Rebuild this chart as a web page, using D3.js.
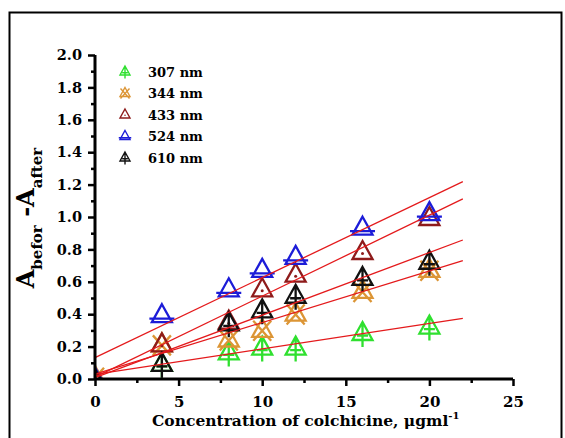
<!DOCTYPE html>
<html><head><meta charset="utf-8">
<script src="https://cdn.jsdelivr.net/npm/d3@7"></script>
<style>body{margin:0;background:#fff}svg{display:block}text{font-family:"DejaVu Serif",serif;font-weight:bold}</style>
</head><body><svg id="c" width="565" height="438"></svg>
<script>
const xValues = [0, 4, 8, 10, 12, 16, 20];
const series = ["307 nm", "344 nm", "433 nm", "524 nm", "610 nm"];
const v307 = [0.01, 0.10, 0.17, 0.20, 0.20, 0.29, 0.33];
const v344 = [0.02, 0.22, 0.25, 0.31, 0.41, 0.55, 0.68];
const v433 = [0.00, 0.22, 0.36, 0.56, 0.65, 0.79, 1.00];
const v524 = [0.01, 0.40, 0.56, 0.68, 0.76, 0.94, 1.03];
const v610 = [0.00, 0.10, 0.35, 0.43, 0.52, 0.63, 0.73];
const xTicks = [0, 5, 10, 15, 20, 25];
const yTicks = [0.0, 0.2, 0.4, 0.6, 0.8, 1.0, 1.2, 1.4, 1.6, 1.8, 2.0];
const fitRange = [0, 22];

const colors = ["#2fe02f", "#dc9535", "#8e1b1b", "#1c1cd8", "#111111"];
const shapes = ["stem", "x", "dot", "bar", "stem"];
const values = [v307, v344, v433, v524, v610];

const svg = d3.select("#c");
svg.append("rect").attr("x", 9.5).attr("y", 12.5).attr("width", 552).attr("height", 450)
  .attr("fill", "none").attr("stroke", "#000").attr("stroke-width", 2);

const x = d3.scaleLinear().domain([0, 25]).range([95, 513]);
const y = d3.scaleLinear().domain([0, 2]).range([379, 55]);

svg.append("clipPath").attr("id", "plotclip").append("rect")
  .attr("x", x(0)).attr("y", y(2) - 20).attr("width", x(25) - x(0) + 20).attr("height", y(0) - y(2) + 20);

function markerPath(shape, s) {
  const p = d3.path();
  p.moveTo(0, -s); p.lineTo(s, s * 0.8); p.lineTo(-s, s * 0.8); p.closePath();
  if (shape === "stem") {
    p.moveTo(0, -s); p.lineTo(0, s * 1.5);
    p.moveTo(-s * 0.55, s * 0.35); p.lineTo(s * 0.55, s * 0.35);
  } else if (shape === "x") {
    p.moveTo(-s * 0.9, -s * 0.8); p.lineTo(s * 0.9, s * 1.2);
    p.moveTo(s * 0.9, -s * 0.8); p.lineTo(-s * 0.9, s * 1.2);
  } else if (shape === "bar") {
    p.moveTo(-s * 1.25, s * 0.45); p.lineTo(s * 1.25, s * 0.45);
  }
  return p.toString();
}
function drawMarker(g, shape, color, s, sw) {
  g.append("path").attr("d", markerPath(shape, s)).attr("fill", "none")
    .attr("stroke", color).attr("stroke-width", sw).attr("stroke-linejoin", "miter");
  if (shape === "dot") g.append("circle").attr("cx", 0).attr("cy", s * 0.25).attr("r", s * 0.15).attr("fill", color);
}

// markers (clipped to plot area)
const mg = svg.append("g").attr("clip-path", "url(#plotclip)");
values.forEach((vals, i) => {
  xValues.forEach((xv, j) => {
    const g = mg.append("g").attr("transform", `translate(${x(xv)},${y(vals[j])})`);
    drawMarker(g, shapes[i], colors[i], 10, 2.3);
  });
});

// regression lines
values.forEach(vals => {
  const n = xValues.length;
  const mx = d3.mean(xValues), my = d3.mean(vals);
  let sxy = 0, sxx = 0;
  for (let k = 0; k < n; k++) { sxy += (xValues[k] - mx) * (vals[k] - my); sxx += (xValues[k] - mx) ** 2; }
  const b = sxy / sxx, a = my - b * mx;
  svg.append("line").attr("x1", x(fitRange[0])).attr("y1", y(a + b * fitRange[0]))
    .attr("x2", x(fitRange[1])).attr("y2", y(a + b * fitRange[1]))
    .attr("stroke", "#e41a1c").attr("stroke-width", 1.3);
});

// axes
const gx = svg.append("g").attr("transform", `translate(0,${y(0)})`);
gx.call(d3.axisBottom(x).tickValues(xTicks).tickSize(7).tickFormat(d3.format("d")));
const gxm = svg.append("g").attr("transform", `translate(0,${y(0)})`);
gxm.call(d3.axisBottom(x).tickValues(d3.range(2.5, 25, 5)).tickSize(4).tickFormat(""));
const gy = svg.append("g").attr("transform", `translate(${x(0)},0)`);
gy.call(d3.axisLeft(y).tickValues(yTicks).tickSize(7).tickFormat(d3.format(".1f")));
const gym = svg.append("g").attr("transform", `translate(${x(0)},0)`);
gym.call(d3.axisLeft(y).tickValues(d3.range(0.1, 2, 0.2)).tickSize(4).tickFormat(""));
[gx, gxm, gy, gym].forEach(g => {
  g.selectAll(".domain").attr("stroke", "#000").attr("stroke-width", 3);
  g.selectAll(".tick line").attr("stroke", "#000").attr("stroke-width", 2.5);
});
[gxm, gym].forEach(g => g.select(".domain").remove());
gx.select(".domain").attr("d", `M${x(0)},0H${x(25)}`);
gy.select(".domain").attr("d", `M0,${y(0)}V${y(2)}`);
gx.selectAll(".tick text").attr("font-size", 15).attr("fill", "#000").attr("y", 14).attr("dy", "0.95em")
  .style("font-family", "DejaVu Serif").style("font-weight", "bold");
gy.selectAll(".tick text").attr("font-size", 14.5).attr("fill", "#000").attr("x", -13)
  .style("font-family", "DejaVu Serif").style("font-weight", "bold");

// legend
series.forEach((name, i) => {
  const yy = 72 + i * 21.5;
  const g = svg.append("g").attr("transform", `translate(125,${yy - 1})`);
  drawMarker(g, shapes[i], colors[i], 5, 1.4);
  svg.append("text").attr("x", 148).attr("y", yy + 4.5).attr("font-size", 13).text(name);
});

// x title
const xt = svg.append("text").attr("x", 152).attr("y", 426).attr("font-size", 15.5);
xt.append("tspan").text("Concentration of colchicine, μgml");
xt.append("tspan").attr("dy", -7).attr("font-size", 10).text("-1");

// y title
const yt = svg.append("text").attr("transform", "translate(34,218) rotate(-90)")
  .attr("text-anchor", "middle").attr("font-size", 24);
yt.append("tspan").text("A");
yt.append("tspan").attr("font-size", 15).attr("dy", 8).text("befor");
yt.append("tspan").attr("dy", -8).text(" -A");
yt.append("tspan").attr("font-size", 15).attr("dy", 8).text("after");
</script></body></html>
